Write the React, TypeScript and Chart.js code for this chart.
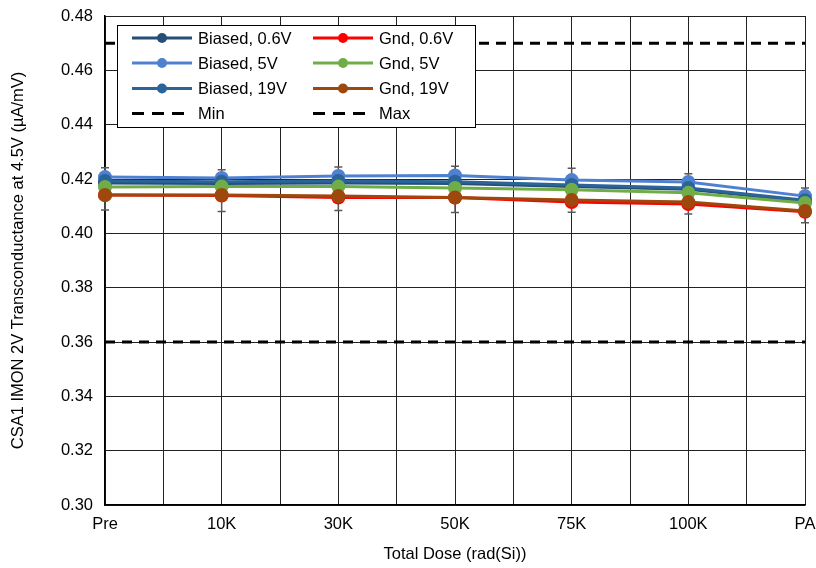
import React, { useEffect, useRef } from "react";
import { Chart, registerables } from "chart.js";

Chart.register(...registerables);

const categories = ["Pre", "10K", "30K", "50K", "75K", "100K", "PA"];
const biased06 = [0.4185, 0.4183, 0.4185, 0.4183, 0.4172, 0.4162, 0.4118];
const biased5 = [0.4207, 0.4204, 0.4211, 0.4213, 0.4196, 0.4189, 0.4137];
const biased19 = [0.4193, 0.419, 0.4193, 0.419, 0.4178, 0.4167, 0.4122];
const gnd06 = [0.4141, 0.4139, 0.4132, 0.4132, 0.4115, 0.4108, 0.4079];
const gnd5 = [0.4171, 0.4172, 0.4172, 0.4167, 0.416, 0.4149, 0.4112];
const gnd19 = [0.4141, 0.4141, 0.4137, 0.4132, 0.4123, 0.4115, 0.4082];
const biased5Err = [0.0034, 0.003, 0.0033, 0.0034, 0.0044, 0.003, 0.003];
const gnd06Err = [0.0055, 0.0059, 0.0048, 0.0055, 0.0037, 0.0037, 0.004];
const minLimit = 0.36;
const maxLimit = 0.47;
const yTicks = [0.3, 0.32, 0.34, 0.36, 0.38, 0.4, 0.42, 0.44, 0.46, 0.48];

const FONT = "'Liberation Sans', Arial, sans-serif";
const FS = 16.5;

const pts = (v: number[]) => v.map((y, i) => ({ x: i, y }));

const series = [
  { label: "Biased, 0.6V", color: "#264F78", data: biased06, err: null as number[] | null },
  { label: "Biased, 5V", color: "#4F81D0", data: biased5, err: biased5Err },
  { label: "Biased, 19V", color: "#2A6499", data: biased19, err: null },
  { label: "Gnd, 0.6V", color: "#FF0000", data: gnd06, err: gnd06Err },
  { label: "Gnd, 5V", color: "#70AD47", data: gnd5, err: null },
  { label: "Gnd, 19V", color: "#9E480E", data: gnd19, err: null },
];

const errorBarPlugin = {
  id: "errorBars",
  beforeDatasetsDraw(chart: any) {
    const ctx = chart.ctx;
    const xs = chart.scales.x;
    const ys = chart.scales.y;
    ctx.save();
    ctx.strokeStyle = "#595959";
    ctx.lineWidth = 1.5;
    series.forEach((s) => {
      if (!s.err) return;
      s.data.forEach((v, i) => {
        const e = s.err![i];
        const x = xs.getPixelForValue(i);
        const y1 = ys.getPixelForValue(v + e);
        const y2 = ys.getPixelForValue(v - e);
        ctx.beginPath();
        ctx.moveTo(x, y1);
        ctx.lineTo(x, y2);
        ctx.moveTo(x - 4, y1);
        ctx.lineTo(x + 4, y1);
        ctx.moveTo(x - 4, y2);
        ctx.lineTo(x + 4, y2);
        ctx.stroke();
      });
    });
    ctx.restore();
  },
};

const legendPlugin = {
  id: "boxLegend",
  afterDraw(chart: any) {
    const ctx = chart.ctx;
    ctx.save();
    const bx = 117, by = 25, bw = 358, bh = 102;
    ctx.fillStyle = "#fff";
    ctx.fillRect(bx, by, bw, bh);
    ctx.strokeStyle = "#000";
    ctx.lineWidth = 1;
    ctx.strokeRect(bx + 0.5, by + 0.5, bw, bh);
    const rows = [38, 63, 88.5, 113.5];
    const cols = [132, 313];
    const items: any[] = [
      [series[0], series[1], series[2], { label: "Min", dash: true }],
      [series[3], series[4], series[5], { label: "Max", dash: true }],
    ];
    ctx.font = FS + "px " + FONT;
    ctx.textBaseline = "middle";
    items.forEach((col, ci) => {
      col.forEach((it: any, ri: number) => {
        const x0 = cols[ci];
        const y = rows[ri];
        ctx.beginPath();
        ctx.lineWidth = 3;
        if (it.dash) {
          ctx.setLineDash([12, 8]);
          ctx.strokeStyle = "#000";
        } else {
          ctx.setLineDash([]);
          ctx.strokeStyle = it.color;
        }
        ctx.moveTo(x0, y);
        ctx.lineTo(x0 + 60, y);
        ctx.stroke();
        ctx.setLineDash([]);
        if (!it.dash) {
          ctx.beginPath();
          ctx.fillStyle = it.color;
          ctx.arc(x0 + 30, y, 5, 0, Math.PI * 2);
          ctx.fill();
        }
        ctx.fillStyle = "#000";
        ctx.textAlign = "left";
        ctx.fillText(it.label, x0 + 66, y + 1);
      });
    });
    ctx.restore();
  },
};

export default function App() {
  const ref = useRef<HTMLCanvasElement | null>(null);
  useEffect(() => {
    if (!ref.current) return;
    const n = series.length;
    const datasets: any[] = series.map((s, i) => ({
      label: s.label,
      data: pts(s.data),
      borderColor: s.color,
      backgroundColor: s.color,
      borderWidth: 3,
      pointRadius: 7,
      pointHoverRadius: 7,
      pointBorderWidth: 0,
      pointBackgroundColor: s.color,
      tension: 0,
      clip: false,
      order: n - i + 2,
    }));
    datasets.push({
      label: "Min",
      data: [{ x: 0, y: minLimit }, { x: 6, y: minLimit }],
      borderColor: "#000",
      borderWidth: 3,
      borderDash: [10, 7],
      pointRadius: 0,
      order: 20,
    });
    datasets.push({
      label: "Max",
      data: [{ x: 0, y: maxLimit }, { x: 6, y: maxLimit }],
      borderColor: "#000",
      borderWidth: 3,
      borderDash: [10, 7],
      pointRadius: 0,
      order: 20,
    });
    const chart = new Chart(ref.current, {
      type: "line",
      data: { datasets },
      plugins: [errorBarPlugin, legendPlugin],
      options: {
        animation: false,
        responsive: false,
        maintainAspectRatio: false,
        layout: { padding: { left: 0, right: 11, top: 16, bottom: 0 } },
        plugins: { legend: { display: false }, tooltip: { enabled: false } },
        scales: {
          x: {
            type: "linear",
            min: 0,
            max: 6,
            afterFit: (s: any) => {
              s.height = 63;
              s.paddingLeft = 0;
              s.paddingRight = 0;
            },
            ticks: {
              stepSize: 0.5,
              autoSkip: false,
              maxRotation: 0,
              padding: 10,
              color: "#000",
              font: { family: FONT, size: FS },
              callback: (v: any) => (Number.isInteger(v) ? categories[v] : ""),
            },
            grid: { color: "#222", lineWidth: 1, drawTicks: false },
            border: { color: "#000", width: 1.5 },
            title: {
              display: true,
              text: "Total Dose (rad(Si))",
              color: "#000",
              font: { family: FONT, size: FS },
              padding: { top: 8 },
            },
          },
          y: {
            min: 0.3,
            max: 0.48,
            afterFit: (s: any) => {
              s.width = 105;
              s.paddingTop = 0;
              s.paddingBottom = 0;
            },
            afterBuildTicks: (s: any) => {
              s.ticks = yTicks.map((v) => ({ value: v }));
            },
            ticks: {
              padding: 12,
              color: "#000",
              font: { family: FONT, size: FS },
              callback: (v: any) => Number(v).toFixed(2),
            },
            grid: { color: "#222", lineWidth: 1, drawTicks: false },
            border: { color: "#000", width: 1.5 },
            title: {
              display: true,
              text: "CSA1 IMON 2V Transconductance at 4.5V (µA/mV)",
              color: "#000",
              font: { family: FONT, size: FS },
              padding: { top: 9, bottom: 4 },
            },
          },
        },
      },
    });
    return () => chart.destroy();
  }, []);
  return (
    <div style={{ position: "fixed", left: 0, top: 0, width: 816, height: 568, background: "#fff" }}>
      <canvas ref={ref} width={816} height={568} style={{ width: 816, height: 568 }} />
    </div>
  );
}
